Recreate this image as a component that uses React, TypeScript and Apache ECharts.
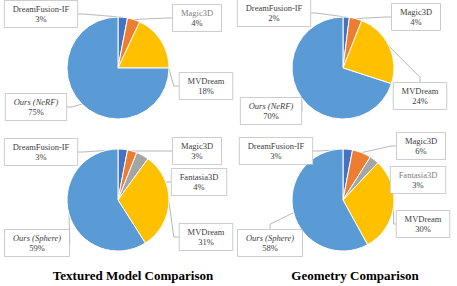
import React, { useEffect, useRef } from "react";
import * as echarts from "echarts";

const names1 = ["DreamFusion-IF", "Magic3D", "MVDream", "Ours (NeRF)"];
const textured1 = [3, 4, 18, 75];
const geometry1 = [2, 4, 24, 70];
const names2 = ["DreamFusion-IF", "Magic3D", "Fantasia3D", "MVDream", "Ours (Sphere)"];
const textured2 = [3, 3, 4, 31, 59];
const geometry2 = [3, 6, 3, 30, 58];
const colors1 = ["#4472C4", "#ED7D31", "#FFC000", "#5B9BD5"];
const colors2 = ["#4472C4", "#ED7D31", "#A5A5A5", "#FFC000", "#5B9BD5"];
const titles = ["Textured Model Comparison", "Geometry Comparison"];

// label centre positions (layout)
const pos1 = [[41, 14], [197, 18], [206, 86], [36, 107]];
const pos2 = [[274, 13], [416, 17], [420, 96], [271, 111]];
const pos3 = [[41, 152], [197, 151], [199, 182], [206, 237], [37, 243]];
const pos4 = [[276, 151], [421, 146], [418, 180], [423, 224], [270, 243]];

const SERIF = "Liberation Serif";

function makeSeries(
  names: string[],
  values: number[],
  colors: string[],
  center: [number, number],
  pos: number[][],
  grayIdx: number[]
) {
  return {
    type: "pie",
    center,
    radius: 51,
    startAngle: 90,
    clockwise: true,
    avoidLabelOverlap: false,
    itemStyle: { borderColor: "#fff", borderWidth: 1 },
    data: names.map((n, i) => ({
      name: n,
      value: values[i],
      itemStyle: { color: colors[i] },
      label: {
        color: "#404040",
        rich: {
          a: {
            fontFamily: SERIF,
            fontSize: 8.5,
            lineHeight: 10,
            color: grayIdx.includes(i) ? "#808080" : "#404040",
            fontStyle: n.startsWith("Ours") ? "italic" : "normal",
          },
          b: {
            fontFamily: SERIF,
            fontSize: 8.5,
            lineHeight: 10,
            color: "#404040",
          },
        },
      },
    })),
    label: {
      show: true,
      position: "outside",
      color: "#404040",
      fontFamily: SERIF,
      formatter: (p: any) => `{a|${p.name}}\n{b|${p.value}%}`,
      backgroundColor: "#fff",
      borderColor: "#BFBFBF",
      borderWidth: 0.8,
      padding: [3, 8, 3, 8],
      align: "center",
    },
    labelLine: {
      show: true,
      length: 5,
      length2: 5,
      lineStyle: { color: "#A6A6A6", width: 0.8 },
    },
    labelLayout: (p: any) => {
      const q = pos[p.dataIndex];
      return {
        x: q[0],
        y: q[1],
        align: "center",
        verticalAlign: "middle",
      };
    },
  };
}

export default function App() {
  const ref = useRef<HTMLDivElement>(null);
  useEffect(() => {
    if (!ref.current) return;
    const chart = echarts.init(ref.current, null, { renderer: "svg" });
    chart.setOption({
      animation: false,
      backgroundColor: "#fff",
      textStyle: { fontFamily: SERIF },
      title: [
        {
          text: titles[0],
          left: 128,
          top: 264,
          textAlign: "center",
          textStyle: { fontFamily: SERIF, fontSize: 13, fontWeight: "bold", color: "#000" },
        },
        {
          text: titles[1],
          left: 350,
          top: 264,
          textAlign: "center",
          textStyle: { fontFamily: SERIF, fontSize: 13, fontWeight: "bold", color: "#000" },
        },
      ],
      series: [
        makeSeries(names1, textured1, colors1, [118, 68], pos1, [1]),
        makeSeries(names1, geometry1, colors1, [343, 68], pos2, []),
        makeSeries(names2, textured2, colors2, [118, 200], pos3, []),
        makeSeries(names2, geometry2, colors2, [343, 200], pos4, [2]),
      ],
    });
    return () => chart.dispose();
  }, []);
  return (
    <div
      ref={ref}
      style={{ position: "fixed", left: 0, top: 0, width: 457, height: 286 }}
    />
  );
}
